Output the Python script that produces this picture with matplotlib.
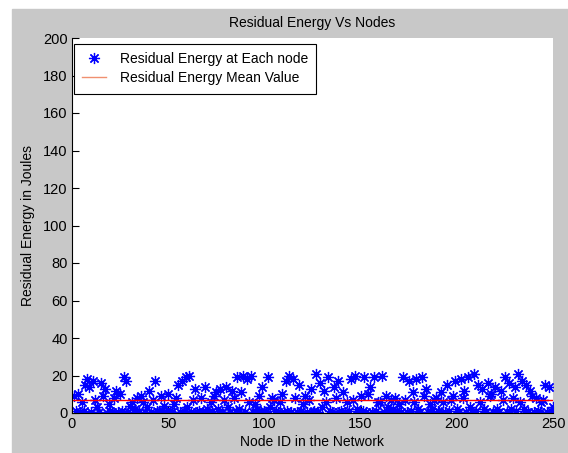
import numpy as np
import matplotlib
matplotlib.use('Agg')
import matplotlib.pyplot as plt
from matplotlib.patches import Rectangle

plt.rcParams['font.family'] = ['Liberation Sans', 'DejaVu Sans']

# residual energy per node (nodes 1..250)
energy = [
    9, 1, 10, 0.5, 6, 1, 15, 18, 14, 0.3,
    17, 7, 3, 0.5, 16, 9, 13, 0.2, 5, 1,
    0.5, 8, 12, 0.4, 10, 1, 19, 17, 0.3, 4,
    6, 0.5, 2, 8, 0.3, 9, 6, 0.4, 3, 12,
    0.5, 7, 17, 1, 0.3, 9, 1, 4, 0.5, 10,
    1, 0.3, 5, 8, 15, 0.4, 17, 1, 19, 3,
    20, 0.5, 7, 13, 0.3, 1, 8, 0.4, 14, 2,
    0.5, 6, 1, 9, 11, 2, 13, 0.5, 7, 14,
    3, 0.4, 12, 8, 0.3, 19, 2, 11, 20, 0.5,
    18, 6, 20, 0.3, 5, 2, 9, 0.5, 14, 1,
    0.3, 19, 3, 8, 7, 1, 0.4, 6, 10, 0.5,
    17, 1, 20, 0.3, 18, 8, 0.5, 15, 1, 5,
    9, 0.3, 7, 13, 0.5, 1, 21, 0.4, 16, 3,
    12, 6, 19, 1, 0.3, 14, 8, 17, 0.5, 1,
    11, 0.3, 6, 1, 18, 7, 20, 2, 0.4, 9,
    1, 19, 0.3, 10, 14, 0.5, 19, 1, 6, 6,
    20, 0.5, 9, 3, 0.3, 7, 2, 8, 1, 5,
    0.5, 19, 7, 0.3, 17, 1, 11, 6, 18, 2,
    0.4, 19, 9, 13, 0.3, 5, 2, 7, 8, 1,
    0.3, 11, 6, 0.5, 15, 1, 7, 9, 17, 2,
    0.5, 18, 8, 12, 0.3, 19, 3, 0.4, 21, 1,
    15, 6, 13, 2, 0.3, 16, 9, 10, 0.5, 14,
    2, 0.4, 12, 7, 19, 0.3, 16, 2, 8, 14,
    1, 21, 6, 17, 2, 15, 0.5, 12, 9, 0.4,
    8, 1, 0.3, 6, 7, 15, 0.5, 14, 1, 3,
]
nodes = np.arange(1, len(energy) + 1)
mean_val = np.mean(energy)

fig = plt.figure(figsize=(5.68, 4.53), dpi=100, facecolor='white')
# grey MATLAB-style figure area, kept behind the axes
fig.patches.append(Rectangle((12 / 568, 0), 1, (453 - 9) / 453,
                             transform=fig.transFigure, color='#c8c8c8', zorder=-10))

ax = fig.add_axes([72 / 568, 40 / 453, 481 / 568, 375 / 453])
ax.set_facecolor('white')

ax.plot(nodes, energy, linestyle='none', marker=(8, 2, 0), markersize=8,
        markeredgewidth=0.9, color='blue', label='Residual Energy at Each node')
ax.plot([0, 250], [mean_val, mean_val], color='red', linewidth=1.0,
        label='Residual Energy Mean Value')

ax.set_xlim(0, 250)
ax.set_ylim(0, 200)
ax.set_xticks(np.arange(0, 251, 50))
ax.set_yticks(np.arange(0, 201, 20))
ax.tick_params(direction='in', length=5, labelsize=10.5, colors='black', pad=3)
for s in ['top', 'right']:
    ax.spines[s].set_visible(False)
ax.set_title('Residual Energy Vs Nodes', fontsize=10, pad=8)
ax.set_xlabel('Node ID in the Network', fontsize=10, labelpad=3)
ax.set_ylabel('Residual Energy in Joules', fontsize=10, labelpad=6)

leg = ax.legend(loc='upper left', bbox_to_anchor=(0.004, 0.984), fontsize=10,
                frameon=True, fancybox=False, edgecolor='black', framealpha=1,
                borderaxespad=0, borderpad=0.6, handlelength=1.7,
                handletextpad=1.0, labelspacing=0.36)
leg.get_frame().set_linewidth(0.8)
leg.get_lines()[1].set_color('#f09070')

fig.savefig('out.png', dpi=100, facecolor=fig.get_facecolor())
